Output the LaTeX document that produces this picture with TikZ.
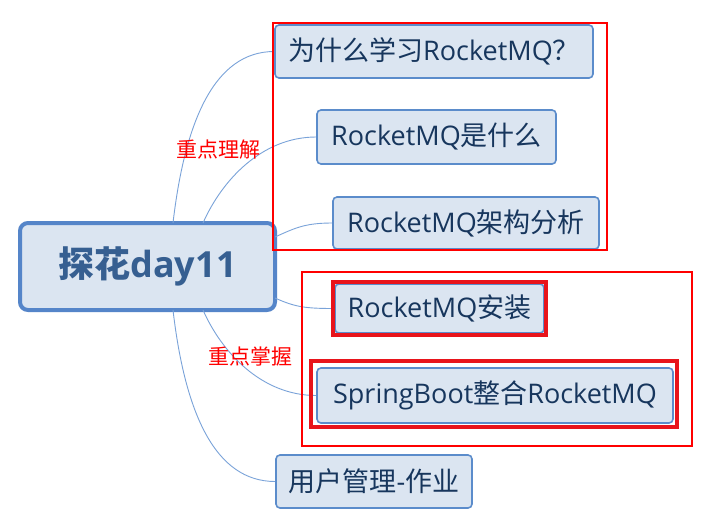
\documentclass[tikz,border=0pt]{standalone}
\usepackage{fontspec}
\setmainfont{Open Sans}
\newfontfamily\zh{Noto Sans CJK SC}
\definecolor{nodefill}{HTML}{DBE5F1}
\definecolor{nodeline}{HTML}{5B8CCB}
\definecolor{nodetext}{HTML}{17365D}
\definecolor{maintext}{HTML}{365F91}
\definecolor{mainline}{HTML}{5585C9}
\definecolor{linkcol}{HTML}{7AA3D9}
\definecolor{markred}{HTML}{FF0000}
\definecolor{markred2}{HTML}{E8141B}
\tikzset{
  topic/.style={draw=nodeline, line width=1.6pt, fill=nodefill, rounded corners=4pt,
    text=nodetext, font=\fontsize{27}{31}\selectfont, inner sep=0pt, anchor=center},
  central/.style={draw=mainline, line width=4pt, fill=nodefill, rounded corners=8pt,
    text=maintext, font=\fontsize{36}{42}\selectfont\bfseries, inner sep=0pt,
    minimum width=255pt, minimum height=87pt},
  link/.style={draw=linkcol, line width=0.9pt},
  redbox/.style={draw=markred, line width=2.8pt},
  redbox2/.style={draw=markred2, line width=3.5pt},
  note/.style={text=markred, font=\zh\fontsize{21}{25}\selectfont, inner sep=0pt}
}
\begin{document}
\begin{tikzpicture}[x=1pt,y=-1pt]
\useasboundingbox[fill=white] (0,0) rectangle (717,528);
% nodes
\node[central] (c) at (147.5,266.5) {{\zh\bfseries 探花}day11};
\node[topic, minimum width=318pt, minimum height=53pt] (n1) at (434,51.5) {{\zh 为什么学习}RocketMQ{\zh ？}};
\node[topic, minimum width=239pt, minimum height=54pt] (n2) at (436.5,137) {RocketMQ{\zh 是什么}};
\node[topic, minimum width=266pt, minimum height=52pt] (n3) at (466,223) {RocketMQ{\zh 架构分析}};
\node[topic, minimum width=209pt, minimum height=49pt] (n4) at (439.5,308.5) {RocketMQ{\zh 安装}};
\node[topic, minimum width=356pt, minimum height=55pt] (n5) at (495,395.5) {SpringBoot{\zh 整合}RocketMQ};
\node[topic, minimum width=196pt, minimum height=53pt] (n6) at (374,481.5) {{\zh 用户管理}-{\zh 作业}};
% connector start points on the central topic
\coordinate (s1) at (173,223);
\coordinate (s2) at (203,223);
\coordinate (s3) at (275,237);
\coordinate (s4) at (275,298);
\coordinate (s5) at (203,310);
\coordinate (s6) at (173,310);
\draw[link] (s1) .. controls (185,120) and (215,51.5) .. (n1.west);
\draw[link] (s2) .. controls (222,180) and (262,137) .. (n2.west);
\draw[link] (s3) .. controls (295,228) and (305,223) .. (n3.west);
\draw[link] (s4) .. controls (295,307) and (305,308.5) .. (n4.west);
\draw[link] (s5) .. controls (222,353) and (262,395.5) .. (n5.west);
\draw[link] (s6) .. controls (185,413) and (215,481.5) .. (n6.west);
% labels
\node[note] (l1) at (218.5,150) {重点理解};
\node[note] (l2) at (250,357) {重点掌握};
% red marks
\draw[redbox] (273,23) rectangle (607,250);
\draw[redbox] (302,272) rectangle (692,446);
\draw[redbox2] (333,282) rectangle (546,335);
\draw[redbox2] (311,361) rectangle (677,427);
\end{tikzpicture}
\end{document}
